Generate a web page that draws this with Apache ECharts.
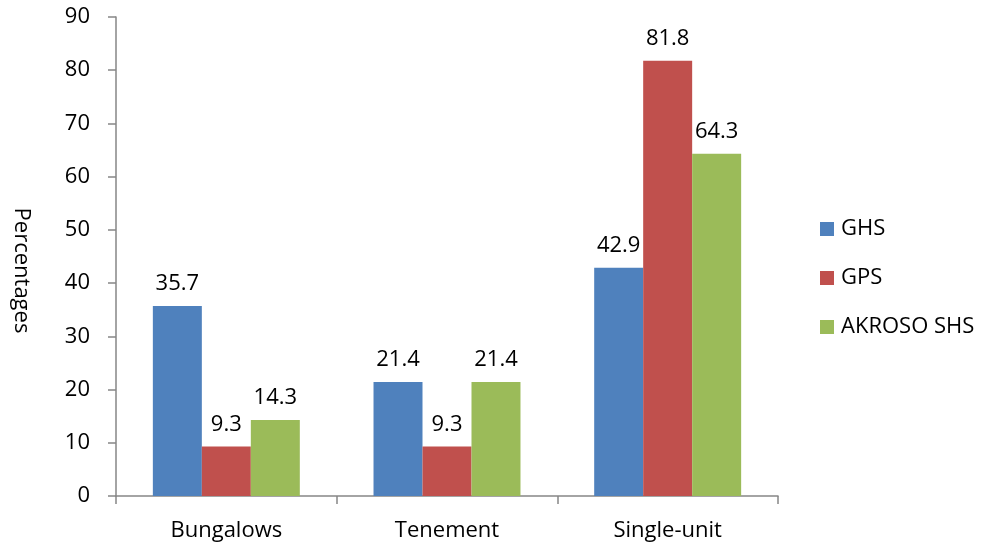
<!DOCTYPE html>
<html>
<head>
<meta charset="utf-8">
<script src="https://cdn.jsdelivr.net/npm/echarts@6/dist/echarts.min.js"></script>
<style>
  html, body { margin: 0; padding: 0; background: #fff; }
  #chart { width: 984px; height: 546px; }
</style>
</head>
<body>
<div id="chart"></div>
<script>
// Housing type by source (percent of respondents)
const categories = ['Bungalows', 'Tenement', 'Single-unit'];
const seriesNames = ['GHS', 'GPS', 'AKROSO SHS'];
const ghs = [35.7, 21.4, 42.9];
const gps = [9.3, 9.3, 81.8];
const akroso = [14.3, 21.4, 64.3];
const colors = ['#4F81BD', '#C0504D', '#9BBB59'];

const FONT = 'Open Sans';
const FS = 22;
const chart = echarts.init(document.getElementById('chart'));

const makeSeries = (name, values, color) => ({
  name: name,
  type: 'bar',
  data: values,
  barGap: '0%',
  barCategoryGap: '33.4%',
  itemStyle: { color: color },
  label: {
    show: true,
    position: 'top',
    distance: 11,
    color: '#000',
    fontFamily: FONT,
    fontSize: FS
  },
  emphasis: { disabled: true }
});

chart.setOption({
  animation: false,
  textStyle: { fontFamily: FONT },
  grid: { left: 116, right: 206, top: 17, bottom: 50, outerBoundsMode: 'none' },
  legend: {
    orient: 'vertical',
    left: 815,
    top: 213,
    itemWidth: 14,
    itemHeight: 14,
    itemGap: 27,
    icon: 'rect',
    textStyle: { fontFamily: FONT, fontSize: FS, color: '#000', padding: [0, 0, 0, 2] },
    data: seriesNames
  },
  xAxis: {
    type: 'category',
    data: categories,
    axisLine: { lineStyle: { color: '#868686', width: 1.5 } },
    axisTick: { show: true, length: 8, lineStyle: { color: '#868686', width: 1.5 } },
    axisLabel: { color: '#000', fontFamily: FONT, fontSize: FS, margin: 24 }
  },
  yAxis: {
    type: 'value',
    min: 0,
    max: 90,
    interval: 10,
    name: 'Percentages',
    nameLocation: 'middle',
    nameGap: 84,
    nameRotate: -90,
    nameTextStyle: { color: '#000', fontFamily: FONT, fontSize: FS, padding: [0, 0, 0, 28] },
    axisLine: { show: true, lineStyle: { color: '#868686', width: 1.5 } },
    axisTick: { show: true, length: 8, lineStyle: { color: '#868686', width: 1.5 } },
    axisLabel: { color: '#000', fontFamily: FONT, fontSize: FS, margin: 26 },
    splitLine: { show: false }
  },
  series: [
    makeSeries(seriesNames[0], ghs, colors[0]),
    makeSeries(seriesNames[1], gps, colors[1]),
    makeSeries(seriesNames[2], akroso, colors[2])
  ]
});
</script>
</body>
</html>
